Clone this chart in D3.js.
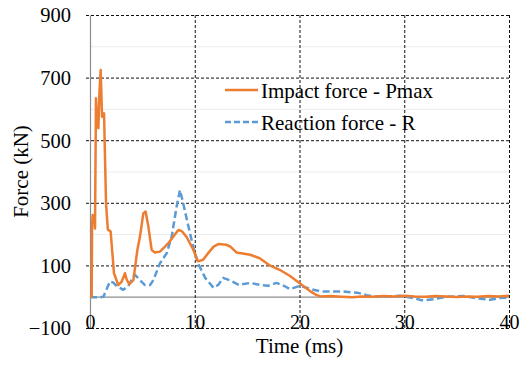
<!DOCTYPE html>
<html>
<head>
<meta charset="utf-8">
<script src="https://cdn.jsdelivr.net/npm/d3@7"></script>
<style>
  html, body { margin: 0; padding: 0; background: #fff; }
  svg { display: block; }
  text { font-family: "Liberation Serif", "Times New Roman", serif; fill: #000; }
</style>
</head>
<body>
<div id="chart"></div>
<script>
// ---- data ----
const impactTime  = [0, 0.16, 0.2, 0.25, 0.4, 0.48, 0.57, 0.68, 0.8, 0.9, 1.02, 1.15, 1.34, 1.53, 1.7, 1.97, 2.29, 2.7, 3.02, 3.34, 3.5, 3.75, 4.14, 4.52, 4.77, 5.09, 5.31, 5.57, 5.89, 6.2, 6.68, 7.16, 7.48, 7.96, 8.43, 8.75, 9.2, 9.86, 10.3, 10.8, 11.3, 11.8, 12.25, 13.0, 13.4, 14.0, 15.3, 16.2, 17.2, 18.1, 19.1, 20.05, 21.0, 21.6, 22.0, 23, 24, 25, 26, 27, 28, 29, 30, 31, 32, 33, 34, 35, 36, 37, 38, 39, 40];
const impactForce = [0, 0, 230, 261, 258, 218, 634, 560, 538, 650, 724, 575, 586, 298, 215, 208, 75, 37, 48, 75, 55, 40, 53, 149, 192, 266, 272, 224, 149, 141, 144, 160, 171, 192, 213, 210, 192, 150, 113, 118, 140, 160, 168, 166, 160, 141, 134, 123, 99, 86, 66, 42, 18, 6, 1, 2, 0, -2, 1, 0, 2, 1, 3, 1, 0, 2, 1, -1, 1, 0, 2, 1, 3];

const reactionTime  = [0, 0.5, 1.0, 1.28, 1.6, 1.91, 2.23, 2.55, 3.18, 3.66, 4.14, 4.3, 4.77, 5.25, 5.73, 6.05, 6.68, 7.32, 7.8, 8.27, 8.59, 8.9, 9.4, 9.86, 10.3, 11.0, 11.8, 12.25, 12.7, 13.4, 14.2, 15.3, 16.2, 17.0, 17.8, 18.5, 19.1, 20.05, 21.0, 22.0, 23.9, 25.5, 26.4, 27.3, 28.5, 29.6, 30.9, 31.8, 32.8, 34.1, 35.7, 36.9, 38.2, 39.4, 40];
const reactionForce = [-2, -2, -2, 0, 25, 49, 45, 34, 22, 34, 65, 70, 53, 37, 37, 53, 107, 139, 192, 288, 341, 298, 224, 158, 108, 60, 28, 38, 60, 52, 38, 44, 38, 35, 44, 35, 24, 35, 25, 17, 17, 13, 5, 0, 1, 3, -5, -12, -8, 0, 2, -5, -10, -3, -3];

const xTicks = [0, 10, 20, 30, 40];
const yTicks = [-100, 100, 300, 500, 700, 900];
const yMinorTicks = [200, 400, 600, 800];
const seriesNames = ["Impact force - Pmax", "Reaction force - R"];
const xTitle = "Time (ms)";
const yTitle = "Force (kN)";

// ---- layout ----
const W = 522, H = 365;
const mLeft = 90, mRight = 509, mTop = 15, mBottom = 328;
const ORANGE = "#ED7D31", BLUE = "#5B9BD5";

const svg = d3.select("#chart").append("svg").attr("width", W).attr("height", H);

const x = d3.scaleLinear().domain([0, 40]).range([mLeft, mRight]);
const y = d3.scaleLinear().domain([-100, 900]).range([mBottom, mTop]);

// minor light gridlines
svg.append("g")
  .attr("transform", `translate(${mLeft},0)`)
  .call(d3.axisRight(y).tickValues(yMinorTicks).tickSize(mRight - mLeft).tickFormat(""))
  .call(g => g.select(".domain").remove())
  .call(g => g.selectAll("line").attr("stroke", "#ececec").attr("stroke-width", 1));

// x-axis (zero line) solid gray
svg.append("g")
  .attr("transform", `translate(0,${y(0)})`)
  .call(d3.axisBottom(x).tickValues([]).tickSizeOuter(0))
  .call(g => g.select(".domain").attr("stroke", "#8c8c8c").attr("stroke-width", 1.2));

// y-axis line solid gray
svg.append("g")
  .attr("transform", `translate(${mLeft},0)`)
  .call(d3.axisLeft(y).tickValues([]).tickSizeOuter(0))
  .call(g => g.select(".domain").attr("stroke", "#8c8c8c").attr("stroke-width", 1.2));

// vertical dashed gridlines
svg.append("g")
  .attr("transform", `translate(0,${mTop})`)
  .call(d3.axisBottom(x).tickValues(xTicks.filter(d => d !== 0)).tickSize(mBottom - mTop).tickFormat(""))
  .call(g => g.select(".domain").remove())
  .call(g => g.selectAll("line").attr("stroke", "#111").attr("stroke-width", 1).attr("stroke-dasharray", "3,2"));

// horizontal dashed gridlines + y labels
svg.append("g")
  .attr("transform", `translate(${mRight},0)`)
  .call(d3.axisLeft(y).tickValues(yTicks).tickSize(mRight - mLeft + 5).tickPadding(14).tickFormat(d3.format("d")))
  .call(g => g.select(".domain").remove())
  .call(g => g.selectAll("line").attr("stroke", "#111").attr("stroke-width", 1).attr("stroke-dasharray", "3,2"))
  .call(g => g.selectAll("text").attr("font-size", "20.5px").attr("fill", "#000")
    .style("font-family", '"Liberation Serif", serif').attr("dy", "0.34em"));

// x labels (sitting on the bottom gridline)
svg.append("g")
  .attr("transform", `translate(0,${mBottom + 1})`)
  .call(d3.axisTop(x).tickValues(xTicks).tickSize(0).tickPadding(0).tickFormat(d3.format("d")))
  .call(g => g.select(".domain").remove())
  .call(g => g.selectAll("text").attr("font-size", "20px").attr("fill", "#000")
    .style("font-family", '"Liberation Serif", serif').attr("dy", "0"));

// lines
const line = d3.line().x(d => x(d[0])).y(d => y(d[1]));
const impact = impactTime.map((t, i) => [t, impactForce[i]]);
const reaction = reactionTime.map((t, i) => [t, reactionForce[i]]);

svg.append("path").datum(reaction)
  .attr("fill", "none").attr("stroke", BLUE).attr("stroke-width", 2.5)
  .attr("stroke-dasharray", "7,3.5").attr("stroke-linejoin", "round")
  .attr("d", line);

svg.append("path").datum(impact)
  .attr("fill", "none").attr("stroke", ORANGE).attr("stroke-width", 2.5)
  .attr("stroke-linejoin", "round")
  .attr("d", line);

// legend
const legend = svg.append("g");
const legItems = [
  { name: seriesNames[0], color: ORANGE, dash: null, ly: 90 },
  { name: seriesNames[1], color: BLUE, dash: "6,3", ly: 122 }
];
legItems.forEach(it => {
  legend.append("line").attr("x1", 225).attr("x2", 258).attr("y1", it.ly).attr("y2", it.ly)
    .attr("stroke", it.color).attr("stroke-width", 2.5)
    .attr("stroke-dasharray", it.dash);
  legend.append("text").attr("x", 261).attr("y", it.ly + 7.5)
    .attr("font-size", "21px").text(it.name);
});

// axis titles
svg.append("text")
  .attr("x", (mLeft + mRight) / 2).attr("y", 353)
  .attr("text-anchor", "middle").attr("font-size", "21px").text(xTitle);

svg.append("text")
  .attr("transform", `translate(28,${(mTop + mBottom) / 2}) rotate(-90)`)
  .attr("text-anchor", "middle").attr("font-size", "21px").text(yTitle);
</script>
</body>
</html>
